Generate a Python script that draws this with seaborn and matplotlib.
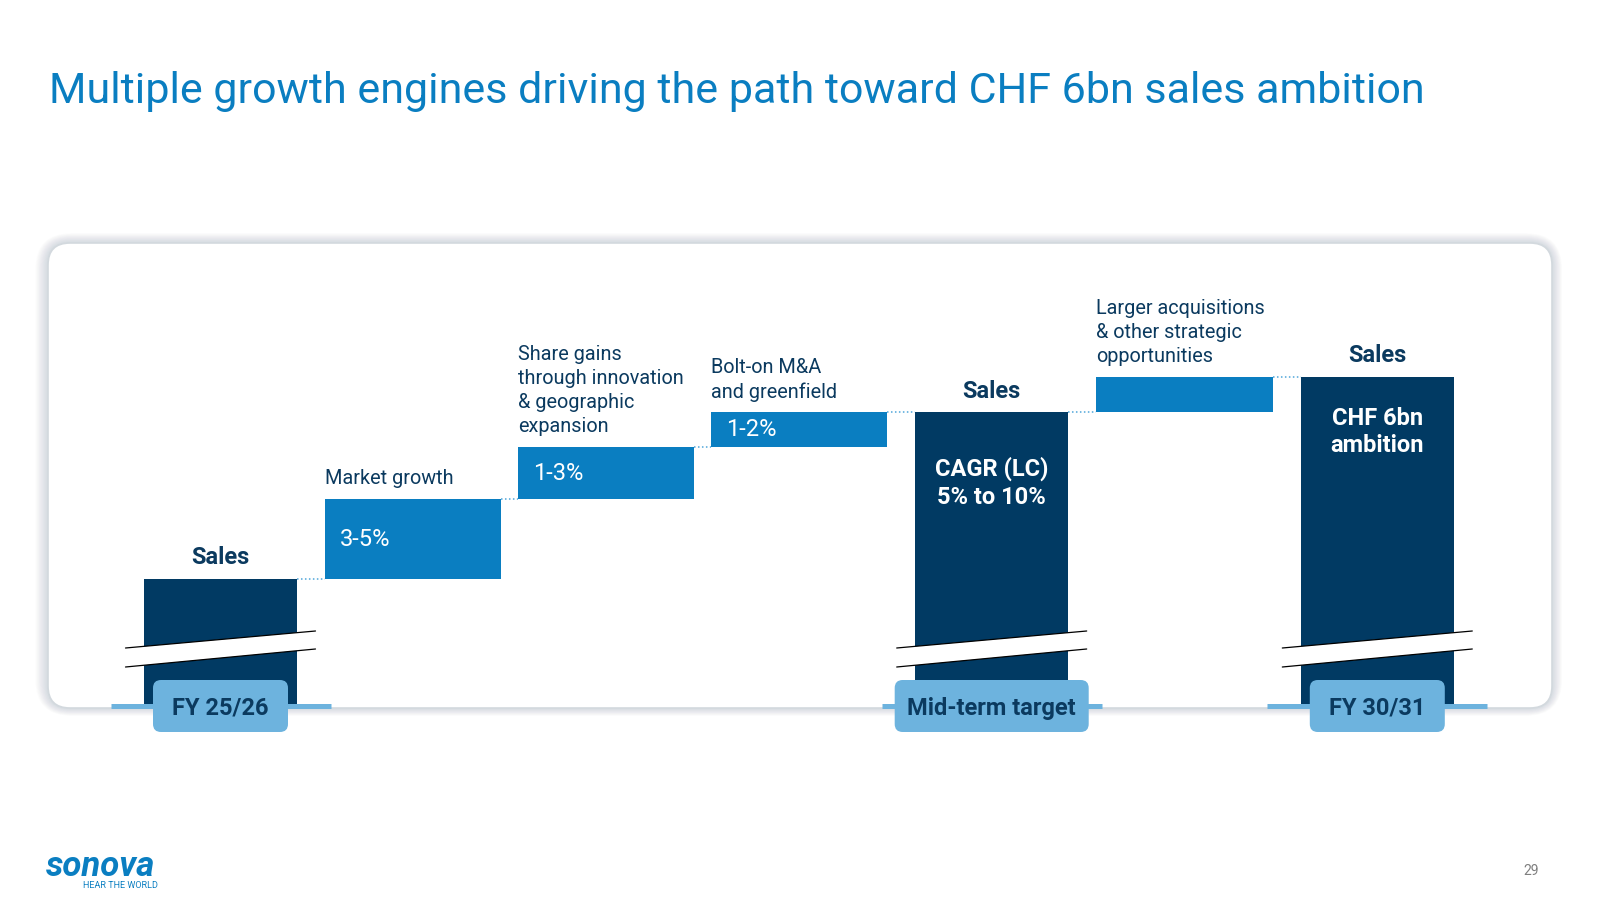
import matplotlib
matplotlib.use("Agg")
import matplotlib.pyplot as plt
import seaborn as sns
import pandas as pd
from matplotlib.patches import FancyBboxPatch, Polygon

# ---------------- data ----------------
categories = ["FY 25/26", "Market growth", "Share gains", "Bolt-on M&A",
              "Mid-term target", "Larger acquisitions", "FY 30/31"]
bar_kind = ["total", "step", "step", "step", "total", "step", "total"]
bar_values = [12.7, 8.0, 5.2, 3.5, 29.4, 3.5, 32.9]   # illustrative index units
top_labels = ["Sales",
              "Market growth",
              "Share gains\nthrough innovation\n& geographic\nexpansion",
              "Bolt-on M&A\nand greenfield",
              "Sales",
              "Larger acquisitions\n& other strategic\nopportunities",
              "Sales"]
inner_labels = ["", "3-5%", "1-3%", "1-2%", "CAGR (LC)\n5% to 10%", "", "CHF 6bn\nambition"]
period_labels = ["FY 25/26", "Mid-term target", "FY 30/31"]
title_text = "Multiple growth engines driving the path toward CHF 6bn sales ambition"
page_number = "29"

# ---------------- style ----------------
NAVY = "#013a63"
TEXT_NAVY = "#0b3a5f"
BLUE = "#0a7ec1"
LIGHT = "#6db3de"
DOT = "#4fa6da"

sns.set_theme(style="white")
plt.rcParams["font.family"] = ["Roboto", "DejaVu Sans"]

W_TOTAL = 0.794
W_STEP = 0.913

# cumulative bottoms
bottoms = []
level = 0.0
for k, v in zip(bar_kind, bar_values):
    if k == "total":
        bottoms.append(0.0)
        level = v
    else:
        bottoms.append(level)
        level += v
tops = [b + v for b, v in zip(bottoms, bar_values)]
widths = [W_TOTAL if k == "total" else W_STEP for k in bar_kind]

fig = plt.figure(figsize=(16, 9), dpi=100)
fig.patch.set_facecolor("white")

bg = fig.add_axes([0, 0, 1, 1], zorder=0)
bg.set_xlim(0, 1600); bg.set_ylim(900, 0); bg.axis("off")

ax = fig.add_axes([0, 0, 1, 1], zorder=1)
ax.patch.set_alpha(0)

fg = fig.add_axes([0, 0, 1, 1], zorder=2)
fg.set_xlim(0, 1600); fg.set_ylim(900, 0); fg.axis("off")
fg.patch.set_alpha(0)

# ---- card with shadow ----
cx0, cy0, cx1, cy1 = 48, 243, 1552, 708
for k in range(14, 0, -1):
    bg.add_patch(FancyBboxPatch((cx0 - k * 0.9, cy0 - k * 0.7), (cx1 - cx0) + 1.8 * k * 0.9,
                                (cy1 - cy0) + 1.8 * k * 0.7,
                                boxstyle=f"round,pad=0,rounding_size={22 + k}",
                                fc="#8796a6", ec="none", alpha=0.022))
bg.add_patch(FancyBboxPatch((cx0, cy0), cx1 - cx0, cy1 - cy0,
                            boxstyle="round,pad=0,rounding_size=22",
                            fc="white", ec="#d3d9de", lw=1.2))

# ---- bars ----
df_tot = pd.DataFrame({"category": categories,
                       "value": [v if k == "total" else 0.0 for k, v in zip(bar_kind, bar_values)]})
sns.barplot(data=df_tot, x="category", y="value", order=categories, color=NAVY,
            saturation=1, width=W_TOTAL, linewidth=0, errorbar=None, ax=ax)
step_idx = [i for i, k in enumerate(bar_kind) if k == "step"]
ax.bar(step_idx, [bar_values[i] for i in step_idx], bottom=[bottoms[i] for i in step_idx],
       width=W_STEP, color=BLUE, linewidth=0)

X0, DX = 220.5, 192.8
Y0, DY = 706.0, 10.0
ax.set_xlim(-X0 / DX, (1600 - X0) / DX)
ax.set_ylim((Y0 - 900) / DY, Y0 / DY)
ax.axis("off")

# dotted connectors
for i in range(len(categories) - 1):
    x_a = i + widths[i] / 2
    x_b = (i + 1) - widths[i + 1] / 2
    ax.plot([x_a, x_b], [tops[i], tops[i]], color=DOT, lw=1.1, ls=(0, (1, 1.6)))

# labels above bars
for i, (k, lab) in enumerate(zip(bar_kind, top_labels)):
    if k == "total":
        ax.text(i, tops[i] + 0.95, lab, ha="center", va="bottom", fontsize=17,
                fontweight="bold", color=TEXT_NAVY)
    else:
        ax.text(i - widths[i] / 2, tops[i] + 1.05, lab, ha="left", va="bottom", fontsize=14.3,
                color=TEXT_NAVY, linespacing=1.34)

# labels inside bars
inner_offset = [0, 0, 0, 0, 7.1, 0, 5.5]
for i, (k, lab) in enumerate(zip(bar_kind, inner_labels)):
    if not lab:
        continue
    if k == "step":
        ax.text(i - widths[i] / 2 + 0.078, bottoms[i] + bar_values[i] / 2, lab,
                ha="left", va="center", fontsize=17, color="white")
    else:
        ax.text(i, tops[i] - inner_offset[i], lab, ha="center", va="center", fontsize=17,
                fontweight="bold", color="white", linespacing=1.27)


def to_px(x, y):
    disp = ax.transData.transform((x, y))
    return fg.transData.inverted().transform(disp)


# break marks, period boxes
total_idx = [i for i, k in enumerate(bar_kind) if k == "total"]
box_w = [135, 194, 135]
for j, i in enumerate(total_idx):
    cx, base = to_px(i, 0)
    # break
    xl, xr = cx - 95, cx + 95
    poly = Polygon([(xl, 648), (xr, 631), (xr, 649), (xl, 667)], closed=True,
                   fc="white", ec="none", zorder=3)
    fg.add_patch(poly)
    fg.plot([xl, xr], [648, 631], color="black", lw=0.9, zorder=4)
    fg.plot([xl, xr], [667, 649], color="black", lw=0.9, zorder=4)
    # line + box
    fg.plot([cx - 110, cx + 110], [base, base], color=LIGHT, lw=3.6, zorder=5,
            solid_capstyle="butt")
    bh = 52
    fg.add_patch(FancyBboxPatch((cx - box_w[j] / 2, base - bh / 2), box_w[j], bh,
                                boxstyle="round,pad=0,rounding_size=8",
                                fc=LIGHT, ec="none", zorder=6))
    fg.text(cx, base + 8.5, period_labels[j], ha="center", va="baseline", fontsize=17,
            fontweight="bold", color=TEXT_NAVY, zorder=7)

# title
fg.text(49, 103, title_text, ha="left", va="baseline", fontsize=31, color=BLUE)

# logo
fg.text(46, 876, "sonova", ha="left", va="baseline", fontsize=25, fontweight="bold",
        style="italic", color=BLUE)
fg.text(83, 888, "HEAR THE WORLD", ha="left", va="baseline", fontsize=6.5, color=BLUE)

# page number
fg.text(1531, 875, page_number, ha="center", va="baseline", fontsize=10, color="#7f7f7f")

fig.savefig("out.png", dpi=100)
